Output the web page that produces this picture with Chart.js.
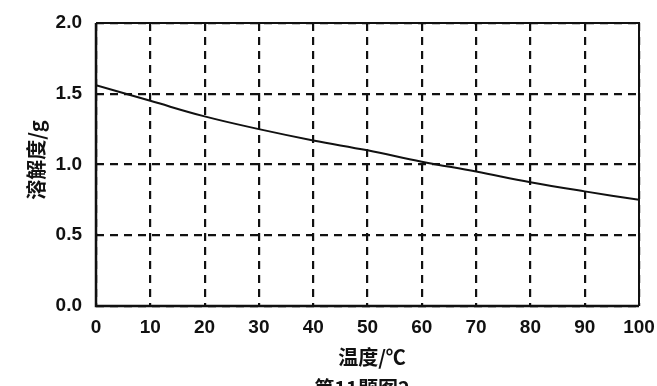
<!DOCTYPE html>
<html>
<head>
<meta charset="utf-8">
<script src="https://cdn.jsdelivr.net/npm/chart.js@4"></script>
<style>
html,body{margin:0;padding:0;background:#fff;}
#wrap{width:657px;height:386px;position:relative;}
</style>
</head>
<body>
<div id="wrap"><canvas id="c" width="657" height="386"></canvas></div>
<script>
const temperatures = [0, 10, 20, 30, 40, 50, 60, 70, 80, 90, 100];
const solubility = [1.56, 1.45, 1.34, 1.25, 1.17, 1.10, 1.02, 0.95, 0.875, 0.81, 0.75];
const yTicks = [0.0, 0.5, 1.0, 1.5, 2.0];
const xTitle = '温度/℃';
const yTitle = '溶解度/g';
const caption = '第11题图2';

const tickFont = {family: 'Liberation Sans', size: 19, weight: 'bold'};

const framePlugin = {
  id: 'frame',
  afterDraw(chart) {
    const {ctx, chartArea: a} = chart;
    ctx.save();
    ctx.strokeStyle = '#111';
    ctx.setLineDash([]);
    ctx.lineWidth = 2;
    ctx.beginPath();
    ctx.moveTo(a.left, a.top); ctx.lineTo(a.right, a.top); ctx.lineTo(a.right, a.bottom);
    ctx.stroke();
    ctx.lineWidth = 2.5;
    ctx.beginPath();
    ctx.moveTo(a.left, a.top); ctx.lineTo(a.left, a.bottom); ctx.lineTo(a.right, a.bottom);
    ctx.stroke();
    ctx.fillStyle = '#111';
    ctx.textAlign = 'center';
    ctx.textBaseline = 'middle';
    ctx.font = 'bold 20px "Noto Sans CJK SC"';
    ctx.fillText(xTitle, 372, 357);
    ctx.fillText(caption, 362, 388);
    ctx.translate(36, 160);
    ctx.rotate(-Math.PI / 2);
    ctx.fillText(yTitle, 0, 0);
    ctx.restore();
  }
};

new Chart(document.getElementById('c'), {
  type: 'line',
  data: {
    datasets: [{
      data: temperatures.map((t, i) => ({x: t, y: solubility[i]})),
      borderColor: '#111',
      borderWidth: 2,
      pointRadius: 0,
      tension: 0.4,
      fill: false
    }]
  },
  options: {
    responsive: false,
    animation: false,
    devicePixelRatio: 1,
    layout: {padding: {left: 0, top: 23, right: 18, bottom: 0}},
    plugins: {legend: {display: false}, tooltip: {enabled: false}},
    scales: {
      x: {
        type: 'linear',
        min: 0, max: 100,
        afterBuildTicks(scale) { scale.ticks = temperatures.map(v => ({value: v})); },
        afterFit(scale) { scale.height = 80; scale.paddingLeft = 0; scale.paddingRight = 0; },
        ticks: {color: '#111', font: tickFont, padding: 10, maxRotation: 0, autoSkip: false},
        grid: {color: '#111', lineWidth: 2.2, drawTicks: false},
        border: {display: false, dash: [8, 6]}
      },
      y: {
        type: 'linear',
        min: 0, max: 2,
        afterBuildTicks(scale) { scale.ticks = yTicks.map(v => ({value: v})); },
        afterFit(scale) { scale.width = 96; scale.paddingTop = 0; scale.paddingBottom = 0; },
        ticks: {color: '#111', font: tickFont, padding: 14, callback: v => v.toFixed(1)},
        grid: {color: '#111', lineWidth: 2.2, drawTicks: false},
        border: {display: false, dash: [8, 6]}
      }
    }
  },
  plugins: [framePlugin]
});
</script>
</body>
</html>
